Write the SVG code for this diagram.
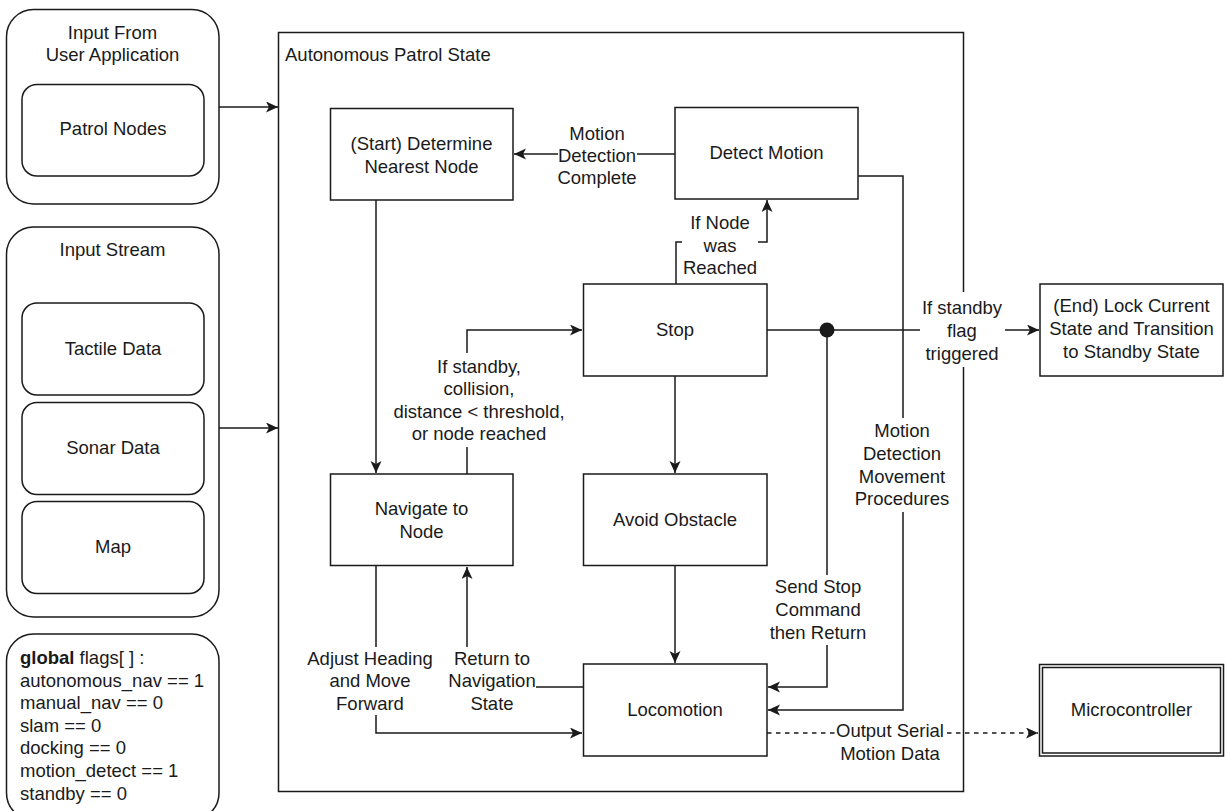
<svg xmlns="http://www.w3.org/2000/svg" width="1225" height="811" viewBox="0 0 1225 811">
  <style>
    .box { fill: #fff; stroke: #1a1a1a; stroke-width: 1.5; }
    .edge { fill: none; stroke: #1a1a1a; stroke-width: 1.5; }
    .dash { stroke-dasharray: 4.5 4.5; }
    .lbl-bg { fill: #fff; stroke: none; }
    text { font-family: "Liberation Sans", Arial, sans-serif; font-size: 18.5px; fill: #1a1a1a; }
    .c { text-anchor: middle; }
  </style>
  <defs>
    <marker id="arrow" markerUnits="userSpaceOnUse" markerWidth="13" markerHeight="12" refX="12" refY="5.5" orient="auto">
      <path d="M0,0 L12,5.5 L0,11 L3,5.5 Z" fill="#1a1a1a"/>
    </marker>
  </defs>

  <rect width="1225" height="811" fill="#fff"/>

  <!-- container: autonomous patrol state -->
  <g id="patrol-state">
    <rect class="box" x="278.5" y="32.5" width="685" height="759"/>
    <text x="285" y="60.5">Autonomous Patrol State</text>
  </g>

  <!-- left column inputs -->
  <g id="user-input">
    <rect class="box" x="6.5" y="9.5" width="212.5" height="194.5" rx="27"/>
    <text class="c" x="112.5" y="38.5">Input From</text>
    <text class="c" x="112.5" y="60.5">User Application</text>
  </g>
  <g id="patrol-nodes">
    <rect class="box" x="22" y="84.5" width="182" height="91.5" rx="15"/>
    <text class="c" x="113" y="134.5">Patrol Nodes</text>
  </g>

  <g id="input-stream">
    <rect class="box" x="6.5" y="227" width="212.5" height="390" rx="27"/>
    <text class="c" x="112.5" y="255.5">Input Stream</text>
  </g>
  <g id="tactile-data">
    <rect class="box" x="22" y="303" width="182" height="92" rx="15"/>
    <text class="c" x="113" y="354.5">Tactile Data</text>
  </g>
  <g id="sonar-data">
    <rect class="box" x="22" y="402.5" width="182" height="92" rx="15"/>
    <text class="c" x="113" y="453.5">Sonar Data</text>
  </g>
  <g id="map">
    <rect class="box" x="22" y="501.5" width="182" height="92" rx="15"/>
    <text class="c" x="113" y="552.5">Map</text>
  </g>

  <g id="global-flags">
    <rect class="box" x="6.5" y="634" width="212.5" height="186" rx="27"/>
    <text x="20" y="663.5"><tspan font-weight="bold">global</tspan> flags[ ] :</text>
    <text x="20" y="686.5">autonomous_nav == 1</text>
    <text x="20" y="709">manual_nav == 0</text>
    <text x="20" y="731.5">slam == 0</text>
    <text x="20" y="754">docking == 0</text>
    <text x="20" y="777">motion_detect == 1</text>
    <text x="20" y="799.5">standby == 0</text>
  </g>

  <!-- connectors -->
  <g id="connectors">
    <path class="edge" d="M219,107 L278,107" marker-end="url(#arrow)"/>
    <path class="edge" d="M219,428 L278,428" marker-end="url(#arrow)"/>

    <!-- detect motion -> start -->
    <path class="edge" d="M675,154 L514,154" marker-end="url(#arrow)"/>
    <!-- start -> navigate -->
    <path class="edge" d="M376,200 L376,473" marker-end="url(#arrow)"/>
    <!-- stop -> detect motion -->
    <path class="edge" d="M676,284 L676,242 L767,242 L767,200" marker-end="url(#arrow)"/>
    <!-- navigate -> stop -->
    <path class="edge" d="M467,474 L467,330 L582,330" marker-end="url(#arrow)"/>
    <!-- stop -> avoid obstacle -->
    <path class="edge" d="M675,376 L675,473" marker-end="url(#arrow)"/>
    <!-- avoid obstacle -> locomotion -->
    <path class="edge" d="M675,566 L675,663" marker-end="url(#arrow)"/>
    <!-- navigate -> locomotion -->
    <path class="edge" d="M376,566 L376,733 L582,733" marker-end="url(#arrow)"/>
    <!-- locomotion -> navigate -->
    <path class="edge" d="M583,687 L467,687 L467,567" marker-end="url(#arrow)"/>
    <!-- stop -> end state -->
    <path class="edge" d="M767,330 L1039,330" marker-end="url(#arrow)"/>
    <circle cx="827" cy="330" r="7.5" fill="#1a1a1a"/>
    <!-- stop command -> locomotion -->
    <path class="edge" d="M827,330 L827,687 L768,687" marker-end="url(#arrow)"/>
    <!-- detect motion -> locomotion -->
    <path class="edge" d="M858,176 L903,176 L903,710 L768,710" marker-end="url(#arrow)"/>
    <!-- locomotion -> microcontroller -->
    <path class="edge dash" d="M767,733 L1038,733" marker-end="url(#arrow)"/>

    <!-- edge labels -->
    <rect class="lbl-bg" x="558" y="121" width="79" height="68"/>
    <text class="c" x="597" y="139.5">Motion</text>
    <text class="c" x="597" y="161.5">Detection</text>
    <text class="c" x="597" y="183.5">Complete</text>

    <rect class="lbl-bg" x="682" y="211" width="76" height="68"/>
    <text class="c" x="720" y="228.5">If Node</text>
    <text class="c" x="720" y="251.5">was</text>
    <text class="c" x="720" y="273.5">Reached</text>

    <rect class="lbl-bg" x="392" y="353" width="174" height="94"/>
    <text class="c" x="479" y="372.5">If standby,</text>
    <text class="c" x="479" y="395">collision,</text>
    <text class="c" x="479" y="417.5">distance &lt; threshold,</text>
    <text class="c" x="479" y="439.5">or node reached</text>

    <rect class="lbl-bg" x="305" y="647" width="130" height="68"/>
    <text class="c" x="370" y="664.5">Adjust Heading</text>
    <text class="c" x="370" y="686.5">and Move</text>
    <text class="c" x="370" y="709.5">Forward</text>

    <rect class="lbl-bg" x="446" y="647" width="90" height="68"/>
    <text class="c" x="492" y="664.5">Return to</text>
    <text class="c" x="492" y="686.5">Navigation</text>
    <text class="c" x="492" y="709.5">State</text>

    <rect class="lbl-bg" x="920" y="292" width="85" height="75"/>
    <text class="c" x="962" y="313.5">If standby</text>
    <text class="c" x="962" y="336.5">flag</text>
    <text class="c" x="962" y="359.5">triggered</text>

    <rect class="lbl-bg" x="771" y="575" width="96" height="70"/>
    <text class="c" x="818" y="592.5">Send Stop</text>
    <text class="c" x="818" y="615.5">Command</text>
    <text class="c" x="818" y="638.5">then Return</text>

    <rect class="lbl-bg" x="853" y="418" width="98" height="94"/>
    <text class="c" x="902" y="436.5">Motion</text>
    <text class="c" x="902" y="459.5">Detection</text>
    <text class="c" x="902" y="482.5">Movement</text>
    <text class="c" x="902" y="504.5">Procedures</text>

    <rect class="lbl-bg" x="835" y="719" width="111" height="46"/>
    <text class="c" x="890" y="736.5">Output Serial</text>
    <text class="c" x="890" y="759.5">Motion Data</text>
  </g>

  <!-- state nodes -->
  <g id="start-node">
    <rect class="box" x="330.5" y="108.5" width="182.5" height="91.5"/>
    <text class="c" x="421.5" y="149.5">(Start) Determine</text>
    <text class="c" x="421.5" y="172.5">Nearest Node</text>
  </g>
  <g id="detect-motion">
    <rect class="box" x="675" y="107.5" width="183" height="91.5"/>
    <text class="c" x="766.5" y="158.5">Detect Motion</text>
  </g>
  <g id="stop">
    <rect class="box" x="583.5" y="284" width="183.5" height="92"/>
    <text class="c" x="675" y="335.5">Stop</text>
  </g>
  <g id="navigate-to-node">
    <rect class="box" x="330.5" y="474" width="182.5" height="91.5"/>
    <text class="c" x="421.5" y="514.5">Navigate to</text>
    <text class="c" x="421.5" y="537.5">Node</text>
  </g>
  <g id="avoid-obstacle">
    <rect class="box" x="583.5" y="474" width="183.5" height="91.5"/>
    <text class="c" x="675" y="525.5">Avoid Obstacle</text>
  </g>
  <g id="locomotion">
    <rect class="box" x="583.5" y="664" width="183.5" height="92"/>
    <text class="c" x="675" y="715.5">Locomotion</text>
  </g>
  <g id="end-node">
    <rect class="box" x="1040" y="284" width="183" height="92"/>
    <text class="c" x="1131.5" y="311.5">(End) Lock Current</text>
    <text class="c" x="1131.5" y="335">State and Transition</text>
    <text class="c" x="1131.5" y="357.5">to Standby State</text>
  </g>
  <g id="microcontroller">
    <rect class="box" x="1039.5" y="664.5" width="184" height="91.5"/>
    <rect fill="none" stroke="#1a1a1a" stroke-width="1.5" x="1042.5" y="667.5" width="178" height="85.5"/>
    <text class="c" x="1131.5" y="715.5">Microcontroller</text>
  </g>
</svg>
